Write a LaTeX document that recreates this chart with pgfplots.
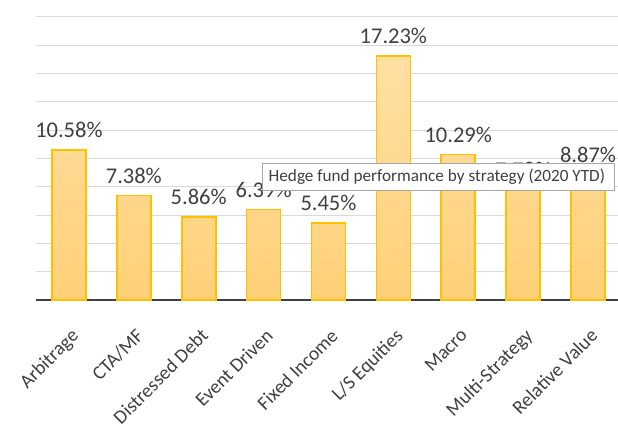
\documentclass[border=0pt]{standalone}
\usepackage{pgfplots}
\pgfplotsset{compat=1.18}
\usepackage{fontspec}
\setmainfont{Carlito}
\definecolor{txt}{HTML}{404040}
\definecolor{grid}{HTML}{D9D9D9}
\definecolor{barline}{HTML}{FFC000}
\definecolor{bartop}{HTML}{FFE0A3}
\definecolor{barbot}{HTML}{FFD078}
\begin{document}
\begin{tikzpicture}
\useasboundingbox (-36.5pt,-128pt) rectangle (581.5pt,300pt);
\begin{axis}[
  scale only axis,
  width=584pt, height=283pt,
  xmin=-0.5, xmax=8.5, ymin=0, ymax=20,
  ybar, bar width=34pt,
  axis line style={draw=none},
  ytick={2,4,...,20}, yticklabels={},
  ymajorgrids, grid style={draw=grid, line width=1pt},
  major tick style={draw=none},
  extra y ticks={0}, extra y tick labels={},
  extra y tick style={grid style={draw=black!75, line width=1.8pt}},
  xtick={0,...,8},
  xticklabels={Arbitrage,CTA/MF,Distressed Debt,Event Driven,Fixed Income,L/S Equities,Macro,Multi-Strategy,Relative Value},
  x tick label style={xshift=1pt, yshift=-23pt, rotate=45, anchor=north east, font=\fontsize{19.5}{19.5}\selectfont, text=txt, inner sep=0pt},
  nodes near coords={\pgfmathprintnumber[fixed, fixed zerofill, precision=2, assume math mode=true]{\pgfplotspointmeta}\%},
  nodes near coords style={font=\fontsize{22.5}{22.5}\selectfont, text=txt},
  every node near coord/.append style={anchor=south, yshift=8pt},
  clip=false,
]
\addplot[draw=barline, line width=1.6pt, top color=bartop, bottom color=barbot] coordinates {
  (0,10.58) (1,7.38) (2,5.86) (3,6.39) (4,5.45) (5,17.23) (6,10.29) (7,7.78) (8,8.87)
};
\end{axis}
\draw[draw=black!35, fill=white, line width=0.8pt] (225.5pt,110pt) rectangle (577.5pt,137pt);
\node[anchor=west, text=txt, font=\fontsize{17.2}{17.2}\selectfont, inner sep=0pt] at (232pt,123.5pt) {Hedge fund performance by strategy (2020 YTD)};
\end{tikzpicture}
\end{document}
